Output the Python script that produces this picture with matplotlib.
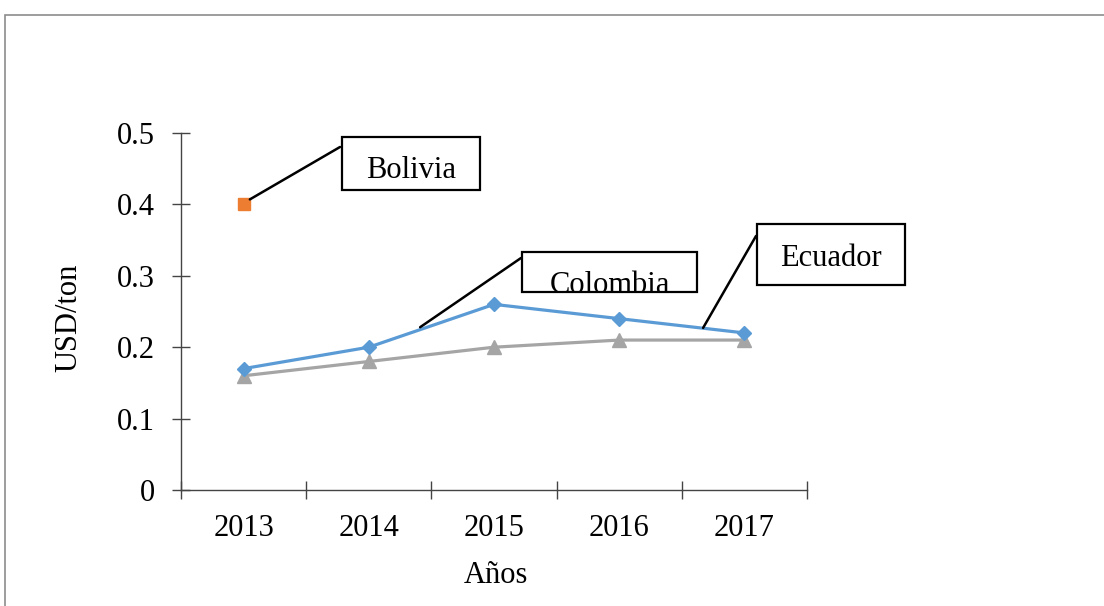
import numpy as np
import matplotlib
matplotlib.use('Agg')
import matplotlib.pyplot as plt
from matplotlib.patches import Rectangle
from matplotlib.ticker import FixedLocator

plt.rcParams['font.family'] = ['Liberation Serif', 'DejaVu Serif']

# data
years = ['2013', '2014', '2015', '2016', '2017']
colombia = [0.17, 0.20, 0.26, 0.24, 0.22]
ecuador = [0.16, 0.18, 0.20, 0.21, 0.21]
bolivia = [0.40, np.nan, np.nan, np.nan, np.nan]
yticks = [0, 0.1, 0.2, 0.3, 0.4, 0.5]
ytick_labels = ['0', '0.1', '0.2', '0.3', '0.4', '0.5']

W, H = 1104, 606
FS = 22
fig = plt.figure(figsize=(W / 100, H / 100), dpi=100)


def fp(x, y):  # image pixel (top-left origin) -> figure fraction
    return x / W, 1 - y / H


ax = fig.add_axes([181 / W, 116 / H, (807 - 181) / W, (490 - 133) / H])
x = np.arange(len(years))

ax.plot(x, colombia, color='#5B9BD5', lw=2.3, marker='D', ms=7.5, zorder=3)
ax.plot(x, ecuador, color='#A5A5A5', lw=2.3, marker='^', ms=9.5, zorder=2)
ax.plot(x, bolivia, color='#ED7D31', lw=0, marker='s', ms=9, zorder=3)

ax.set_xlim(-0.5, len(years) - 0.5)
ax.set_ylim(0, 0.5)
ax.set_yticks(yticks)
ax.set_yticklabels(ytick_labels, fontsize=FS)
ax.xaxis.set_major_locator(FixedLocator(np.arange(-0.5, len(years), 1)))
ax.set_xticklabels([])
ax.xaxis.set_minor_locator(FixedLocator(x))
ax.set_xticklabels(years, minor=True, fontsize=FS)
ax.tick_params(axis='x', which='major', direction='inout', length=13, width=1, color='#444444')
ax.tick_params(axis='x', which='minor', length=0, pad=17)
ax.tick_params(axis='y', direction='inout', length=13, width=1, color='#444444', pad=12)

for s in ['top', 'right']:
    ax.spines[s].set_visible(False)
for s in ['left', 'bottom']:
    ax.spines[s].set_color('#444444')
    ax.spines[s].set_linewidth(1)

fig.text(*fp(496, 583), 'Años', fontsize=FS, ha='center', va='baseline')
fig.text(*fp(69, 318), 'USD/ton', fontsize=FS, ha='center', va='center', rotation=90)

# data labels with leader lines: name, line start (data), box (px), line end (px), text baseline (px)
labels = [
    ('Bolivia', (0.05, 0.407), (342, 137, 480, 190), (340, 147), 178),
    ('Colombia', (1.41, 0.228), (522, 252, 697, 292), (521, 258), 293),
    ('Ecuador', (3.67, 0.227), (757, 224, 905, 285), (756, 236), 266),
]
for name, start, box, end, base in labels:
    x0, y0, x1, y1 = box
    ax.annotate('', xy=start, xycoords='data', xytext=fp(*end), textcoords='figure fraction',
                arrowprops=dict(arrowstyle='-', color='black', lw=1.8, shrinkA=0, shrinkB=0))
    bx, by = fp(x0, y1)
    rect = Rectangle((bx, by), (x1 - x0) / W, (y1 - y0) / H, transform=fig.transFigure,
                     fill=False, edgecolor='black', lw=1.6)
    fig.add_artist(rect)
    t = fig.text(*fp((x0 + x1) / 2, base), name, fontsize=FS, ha='center', va='baseline')
    if name == 'Colombia':
        clip = Rectangle((bx, by), (x1 - x0) / W, (y1 - y0) / H, transform=fig.transFigure)
        t.set_clip_path(clip)

# outer chart border
border = Rectangle(fp(4.5, 620), 1200 / W, (620 - 14.5) / H, transform=fig.transFigure,
                   fill=False, edgecolor='#8c8c8c', lw=1.2)
fig.add_artist(border)

fig.savefig('out.png', dpi=100, facecolor='white')
